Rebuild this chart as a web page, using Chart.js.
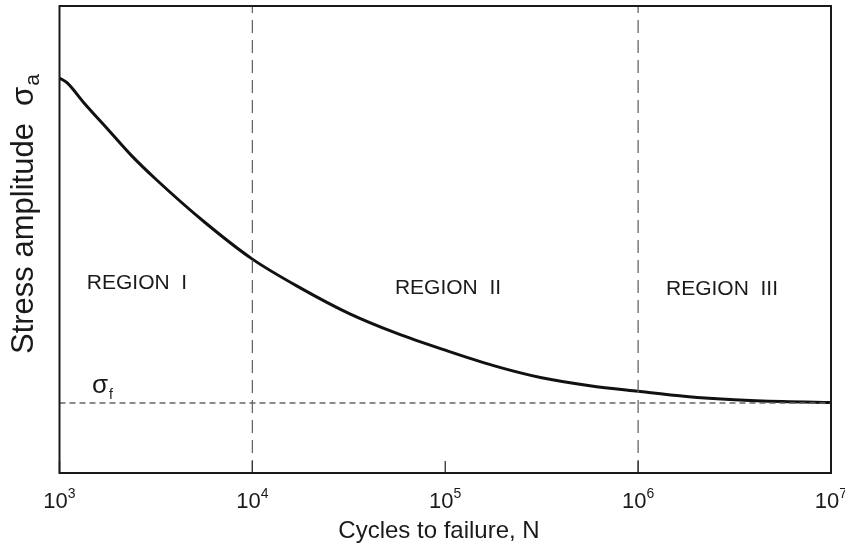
<!DOCTYPE html>
<html><head><meta charset="utf-8">
<script src="https://cdn.jsdelivr.net/npm/chart.js@4/dist/chart.umd.min.js"></script>
<style>html,body{margin:0;padding:0;background:#fff}#wrap{width:845px;height:545px}</style>
</head><body><div id="wrap"><canvas id="c" width="845" height="545"></canvas></div>
<script>
// ---- data ----
const cycles = [1000, 1100, 1330, 1780, 2370, 3160, 5620, 10000, 17800, 31600, 56200,
  100000, 178000, 316000, 562000, 1000000, 1780000, 3160000, 5620000, 10000000];
const stressAmplitude = [84.6, 83.5, 79.4, 73.6, 67.9, 62.9, 53.8, 45.8, 39.6, 34.2, 29.9,
  26.3, 23.0, 20.4, 18.7, 17.5, 16.4, 15.7, 15.3, 15.1];
const fatigueLimit = 15.0;
const regionBoundaries = [10000, 1000000];
const tickDecades = [1000, 10000, 100000, 1000000, 10000000];
const tickExponents = ['3', '4', '5', '6', '7'];
const regionLabels = ['REGION  I', 'REGION  II', 'REGION  III'];
const xTitle = 'Cycles to failure, N';
const yTitle = 'Stress amplitude  ';
const yTitleSymbol = 'σ';
const yTitleSub = 'a';
const limitSymbol = 'σ';
const limitSub = 'f';

const FONT = '"Liberation Sans", Arial, Helvetica, sans-serif';
const TXT = '#1a1a1a';

const curve = cycles.map((c, i) => ({x: c, y: stressAmplitude[i]}));
const limitLine = [{x: tickDecades[0], y: fatigueLimit}, {x: tickDecades[tickDecades.length - 1], y: fatigueLimit}];

const datasets = [
  {data: limitLine, borderColor: '#666', borderWidth: 1.4, borderDash: [6, 4], pointRadius: 0, tension: 0},
];
regionBoundaries.forEach(b => datasets.push({
  data: [{x: b, y: 0}, {x: b, y: 100}], borderColor: '#666', borderWidth: 1.3, borderDash: [13, 7], pointRadius: 0, tension: 0
}));
datasets.push({data: curve, borderColor: '#111', borderWidth: 3, pointRadius: 0, cubicInterpolationMode: 'monotone'});

const decor = {
  id: 'decor',
  afterDraw(chart) {
    const ctx = chart.ctx, a = chart.chartArea, xs = chart.scales.x;
    ctx.save();
    // inner ticks
    ctx.strokeStyle = '#333'; ctx.lineWidth = 1.3;
    tickDecades.forEach(v => {
      const px = xs.getPixelForValue(v);
      ctx.beginPath(); ctx.moveTo(px, a.bottom); ctx.lineTo(px, a.bottom - 12); ctx.stroke();
    });
    // frame
    ctx.strokeStyle = '#1a1a1a'; ctx.lineWidth = 2;
    ctx.strokeRect(a.left, a.top, a.right - a.left, a.bottom - a.top);
    ctx.fillStyle = TXT;
    // tick labels 10^n
    ctx.textBaseline = 'alphabetic';
    tickDecades.forEach((v, i) => {
      const px = xs.getPixelForValue(v);
      ctx.font = '22px ' + FONT;
      const w1 = ctx.measureText('10').width;
      ctx.font = '14px ' + FONT;
      const w2 = ctx.measureText(tickExponents[i]).width;
      const x0 = px - (w1 + w2) / 2;
      ctx.font = '22px ' + FONT; ctx.textAlign = 'left';
      ctx.fillText('10', x0, 508);
      ctx.font = '14px ' + FONT;
      ctx.fillText(tickExponents[i], x0 + w1, 498);
    });
    // x title
    ctx.font = '24px ' + FONT; ctx.textAlign = 'center';
    ctx.fillText(xTitle, 439, 538);
    // region labels
    ctx.font = '21px ' + FONT;
    const regPos = [[137, 289], [448, 294], [722, 295]];
    regionLabels.forEach((t, i) => ctx.fillText(t, regPos[i][0], regPos[i][1]));
    // sigma_f
    ctx.textAlign = 'left';
    ctx.font = '26px ' + FONT;
    ctx.fillText(limitSymbol, 92, 393);
    const sw = ctx.measureText(limitSymbol).width;
    ctx.font = '14px ' + FONT;
    ctx.fillText(limitSub, 92 + sw + 1, 399);
    // y title rotated
    ctx.save();
    ctx.translate(33, 354);
    ctx.rotate(-Math.PI / 2);
    ctx.font = '31px ' + FONT; ctx.textAlign = 'left';
    ctx.fillText(yTitle, 0, 0);
    const tw = ctx.measureText(yTitle).width;
    ctx.fillText(yTitleSymbol, tw, 0);
    const gw = ctx.measureText(yTitleSymbol).width;
    ctx.font = '21px ' + FONT;
    ctx.fillText(yTitleSub, tw + gw + 1, 6);
    ctx.restore();
    ctx.restore();
  }
};

new Chart(document.getElementById('c'), {
  type: 'line',
  data: {datasets},
  options: {
    responsive: false,
    animation: false,
    devicePixelRatio: 1,
    layout: {padding: {left: 59.5, top: 6, right: 14, bottom: 72}},
    plugins: {legend: {display: false}, tooltip: {enabled: false}},
    scales: {
      x: {type: 'logarithmic', min: 1000, max: 10000000, display: false},
      y: {type: 'linear', min: 0, max: 100, display: false}
    }
  },
  plugins: [decor]
});
</script></body></html>
